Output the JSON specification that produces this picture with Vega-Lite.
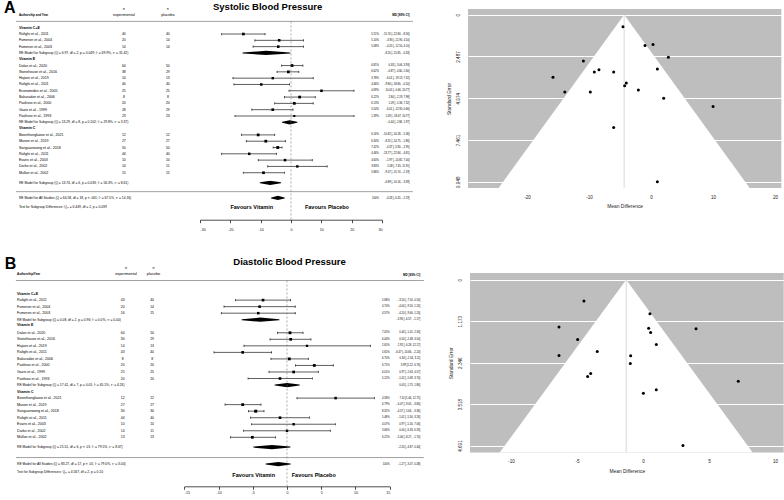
{
  "$schema": "https://vega.github.io/schema/vega-lite/v6.json",
  "background": "white",
  "padding": {"left": 2, "top": 0, "right": 0, "bottom": 0},
  "spacing": 24,
  "config": {"view": {"stroke": null}, "font": "Liberation Sans", "text": {"font": "Liberation Sans", "color": "#000000"}},
  "datasets": {
    "sbp": [
      {"type": "header", "row": 1, "label": "Vitamin C+E"},
      {"type": "study", "row": 2, "label": "Rafighi et al., 2011", "ne": 40, "np": 40, "w": 5.51, "md": -15.7, "lo": -22.84, "hi": -8.56},
      {"type": "study", "row": 3, "label": "Fumeron et al., 2004", "ne": 20, "np": 14, "w": 5.1, "md": -3.9, "lo": -11.9, "hi": 4.1},
      {"type": "study", "row": 4, "label": "Fumeron et al., 2003", "ne": 14, "np": 14, "w": 5.08, "md": -4.2, "lo": -12.5, "hi": 4.1},
      {"type": "model", "row": 5, "label": "RE Model for Subgroup (Q = 6.97, df = 2, p = 0.049; I² = 69.9%, τ² = 31.42)", "md": -8.2, "lo": -15.85, "hi": -0.33},
      {"type": "header", "row": 6, "label": "Vitamin E"},
      {"type": "study", "row": 7, "label": "Dalan et al., 2020", "ne": 64, "np": 50, "w": 6.81, "md": 0.33, "lo": -3.06, "hi": 3.93},
      {"type": "study", "row": 8, "label": "Stonehouse et al., 2016", "ne": 38, "np": 29, "w": 6.62, "md": -0.87, "lo": -4.6, "hi": 2.6},
      {"type": "study", "row": 9, "label": "Hajiani et al., 2019", "ne": 14, "np": 13, "w": 3.78, "md": -6.01, "lo": -19.13, "hi": 7.32},
      {"type": "study", "row": 10, "label": "Rafighi et al., 2011", "ne": 40, "np": 40, "w": 4.46, "md": -9.8, "lo": -18.8, "hi": -0.5},
      {"type": "study", "row": 11, "label": "Economides et al., 2005", "ne": 25, "np": 25, "w": 4.69, "md": 10.05, "lo": -0.66, "hi": 20.77},
      {"type": "study", "row": 12, "label": "Bakuradze et al., 2006", "ne": 8, "np": 8, "w": 6.22, "md": 2.84, "lo": -2.19, "hi": 7.98},
      {"type": "study", "row": 13, "label": "Paolisso et al., 2000", "ne": 20, "np": 20, "w": 6.13, "md": 1.09, "lo": -5.36, "hi": 7.32},
      {"type": "study", "row": 14, "label": "Gazis et al., 1999", "ne": 28, "np": 29, "w": 5.54, "md": -6.01, "lo": -12.9, "hi": 0.66},
      {"type": "study", "row": 15, "label": "Paolisso et al., 1993", "ne": 23, "np": 23, "w": 1.39, "md": 1.09, "lo": -18.47, "hi": 20.77},
      {"type": "model", "row": 16, "label": "RE Model for Subgroup (Q = 13.29, df = 8, p = 0.102; I² = 29.8%, τ² = 3.37)", "md": -0.44, "lo": -2.84, "hi": 1.97},
      {"type": "header", "row": 16.9, "label": "Vitamin C"},
      {"type": "study", "row": 18, "label": "Boonthongkaew et al., 2021", "ne": 12, "np": 12, "w": 6.16, "md": -10.82, "lo": -16.28, "hi": -5.36},
      {"type": "study", "row": 19, "label": "Mason et al., 2019", "ne": 27, "np": 27, "w": 6.34, "md": -8.31, "lo": -14.75, "hi": -1.86},
      {"type": "study", "row": 20, "label": "Sanguanwong et al., 2018", "ne": 50, "np": 50, "w": 7.42, "md": -4.37, "lo": -5.9, "hi": -2.95},
      {"type": "study", "row": 21, "label": "Rafighi et al., 2011", "ne": 44, "np": 40, "w": 4.46, "md": -13.77, "lo": -22.84, "hi": -4.81},
      {"type": "study", "row": 22, "label": "Evans et al., 2003", "ne": 10, "np": 10, "w": 4.6, "md": -1.97, "lo": -10.82, "hi": 7.0},
      {"type": "study", "row": 23, "label": "Darko et al., 2002", "ne": 14, "np": 11, "w": 3.83, "md": 2.08, "lo": -7.65, "hi": 11.91},
      {"type": "study", "row": 24, "label": "Mullan et al., 2002", "ne": 15, "np": 15, "w": 5.86, "md": -9.07, "lo": -15.74, "hi": -2.19},
      {"type": "model", "row": 25.6, "label": "RE Model for Subgroup (Q = 13.74, df = 6, p = 0.033; I² = 56.3%, τ² = 8.61)", "md": -6.89, "lo": -10.16, "hi": -3.39},
      {"type": "overall", "row": 28, "label": "RE Model for All Studies (Q = 64.58, df = 18, p < .001; I² = 67.5%, τ² = 14.16)", "md": -4.33, "lo": -6.45, "hi": -2.19},
      {"type": "note", "row": 29.4, "label": "Test for Subgroup Differences: Qₘ = 6.449, df = 2, p = 0.039"}
    ],
    "dbp": [
      {"type": "header", "row": 2, "label": "Vitamin C+E"},
      {"type": "study", "row": 3, "label": "Rafighi et al., 2011", "ne": 43, "np": 40, "w": 5.68, "md": -3.5, "lo": -7.5, "hi": 0.5},
      {"type": "study", "row": 4, "label": "Fumeron et al., 2004", "ne": 20, "np": 14, "w": 4.7, "md": -4.0, "lo": -9.2, "hi": 1.2},
      {"type": "study", "row": 5, "label": "Fumeron et al., 2003", "ne": 16, "np": 15, "w": 4.57, "md": -4.2, "lo": -9.6, "hi": 1.2},
      {"type": "model", "row": 6, "label": "RE Model for Subgroup (Q = 0.08, df = 2, p = 0.96; I² = 0.0%, τ² = 0.00)", "md": -3.9, "lo": -6.57, "hi": -1.17},
      {"type": "header", "row": 6.8, "label": "Vitamin E"},
      {"type": "study", "row": 8, "label": "Dalan et al., 2020", "ne": 64, "np": 50, "w": 7.05, "md": 0.44, "lo": -1.41, "hi": 2.34},
      {"type": "study", "row": 9, "label": "Stonehouse et al., 2016", "ne": 30, "np": 29, "w": 6.04, "md": 0.54, "lo": -2.48, "hi": 3.5},
      {"type": "study", "row": 10, "label": "Hajiani et al., 2019", "ne": 14, "np": 13, "w": 2.65, "md": 2.92, "lo": -6.28, "hi": 12.17},
      {"type": "study", "row": 11, "label": "Rafighi et al., 2011", "ne": 43, "np": 40, "w": 5.65, "md": -6.47, "lo": -10.66, "hi": -2.24},
      {"type": "study", "row": 12, "label": "Bakuradze et al., 2006", "ne": 8, "np": 8, "w": 6.7, "md": 0.34, "lo": -2.34, "hi": 3.11},
      {"type": "study", "row": 13, "label": "Paolisso et al., 2000", "ne": 20, "np": 20, "w": 6.71, "md": 3.99, "lo": 1.22, "hi": 6.76},
      {"type": "study", "row": 14, "label": "Gazis et al., 1999", "ne": 25, "np": 25, "w": 6.01, "md": 0.97, "lo": -2.63, "hi": 4.57},
      {"type": "study", "row": 15, "label": "Paolisso et al., 1993", "ne": 20, "np": 20, "w": 5.12, "md": -1.02, "lo": -5.69, "hi": 3.7},
      {"type": "model", "row": 16, "label": "RE Model for Subgroup (Q = 17.41, df = 7, p = 0.01; I² = 65.1%, τ² = 4.26)", "md": 0.03, "lo": -1.75, "hi": 1.8},
      {"type": "header", "row": 17.1, "label": "Vitamin C"},
      {"type": "study", "row": 18, "label": "Boonthongkaew et al., 2021", "ne": 12, "np": 12, "w": 4.58, "md": 7.1, "lo": 1.46, "hi": 12.75},
      {"type": "study", "row": 19, "label": "Mason et al., 2019", "ne": 27, "np": 27, "w": 6.79, "md": -6.47, "lo": -9.05, "hi": -3.8},
      {"type": "study", "row": 20, "label": "Sanguanwong et al., 2018", "ne": 30, "np": 30, "w": 8.32, "md": -4.57, "lo": -5.64, "hi": -3.36},
      {"type": "study", "row": 21, "label": "Rafighi et al., 2011", "ne": 44, "np": 40, "w": 5.48, "md": -1.02, "lo": -5.3, "hi": 3.26},
      {"type": "study", "row": 22, "label": "Evans et al., 2003", "ne": 10, "np": 10, "w": 4.07, "md": 0.97, "lo": -5.16, "hi": 7.06},
      {"type": "study", "row": 23, "label": "Darko et al., 2002", "ne": 14, "np": 11, "w": 3.66, "md": 0.0, "lo": -6.33, "hi": 6.33},
      {"type": "study", "row": 24, "label": "Mullan et al., 2002", "ne": 13, "np": 13, "w": 6.22, "md": -5.06, "lo": -8.27, "hi": -1.7},
      {"type": "model", "row": 25.5, "label": "RE Model for Subgroup (Q = 25.51, df = 6, p < .01; I² = 79.5%, τ² = 8.67)", "md": -2.2, "lo": -4.87, "hi": 0.44},
      {"type": "overall", "row": 28.1, "label": "RE Model for All Studies (Q = 83.27, df = 17, p < .01; I² = 79.0%, τ² = 3.04)", "md": -1.27, "lo": -3.07, "hi": 0.48},
      {"type": "note", "row": 29.3, "label": "Test for Subgroup Differences: Qₘ = 4.567, df = 2, p = 0.10"}
    ],
    "sbpFunnel": [
      {"md": -4.52, "se": 0.71}, {"md": -0.97, "se": 1.83}, {"md": 0.32, "se": 1.77}, {"md": -10.9, "se": 2.76},
      {"md": 2.8, "se": 2.54}, {"md": -8.39, "se": 3.28}, {"md": -9.14, "se": 3.41}, {"md": -6.02, "se": 3.41},
      {"md": 1.02, "se": 3.24}, {"md": -15.8, "se": 3.73}, {"md": -3.98, "se": 4.07}, {"md": -4.25, "se": 4.23},
      {"md": -2.04, "se": 4.49}, {"md": -13.9, "se": 4.61}, {"md": -9.78, "se": 4.61}, {"md": 2.04, "se": 4.98},
      {"md": 10.0, "se": 5.46}, {"md": -6.02, "se": 6.71}, {"md": 1.02, "se": 9.95}
    ],
    "dbpFunnel": [
      {"md": -4.47, "se": 0.6}, {"md": 0.53, "se": 0.96}, {"md": -6.36, "se": 1.34}, {"md": 0.43, "se": 1.37},
      {"md": 0.58, "se": 1.49}, {"md": 4.02, "se": 1.39}, {"md": -4.95, "se": 1.69}, {"md": 1.01, "se": 1.83},
      {"md": -3.46, "se": 2.03}, {"md": -6.36, "se": 2.14}, {"md": -0.93, "se": 2.15}, {"md": -0.96, "se": 2.37},
      {"md": -3.96, "se": 2.65}, {"md": -4.19, "se": 2.74}, {"md": 7.22, "se": 2.87}, {"md": 1.01, "se": 3.11},
      {"md": 0.03, "se": 3.21}, {"md": 3.03, "se": 4.69}
    ],
    "sbpRegion": [
      {"se": 0, "left": -4.33, "right": -4.33},
      {"se": 10.32, "left": -24.56, "right": 15.9}
    ],
    "dbpRegion": [
      {"se": 0, "left": -1.27, "right": -1.27},
      {"se": 4.89, "left": -10.85, "right": 8.31}
    ]
  },
  "vconcat": [
    {
      "spacing": 14,
      "hconcat": [
        {
          "width": 430,
          "height": 210.7,
          "data": {"name": "sbp"},
          "resolve": {"scale": {"size": "independent"}},
          "layer": [
            {
              "transform": [{"filter": "datum.type === 'study'"}],
              "mark": {"type": "rule", "color": "#1a1a1a", "strokeWidth": 0.7},
              "encoding": {
                "x": {"field": "lo", "type": "quantitative",
                  "scale": {"domain": [-30, 30], "range": [198, 380], "nice": false, "zero": false},
                  "axis": {"values": [-30, -20, -10, 0, 10, 20, 30], "title": null, "grid": false, "domainColor": "#000000", "domainWidth": 0.7, "tickColor": "#000000", "tickWidth": 0.7, "tickSize": 3, "labelFontSize": 3.6, "labelColor": "#111111", "labelPadding": 4.5, "labelExpr": "replace(datum.label, '−', '-')"}},
                "x2": {"field": "hi"},
                "y": {"field": "row", "type": "quantitative", "scale": {"domain": [-1.97, 31.45], "reverse": true, "nice": false, "zero": false}, "axis": null}
              }
            },
            {
              "transform": [{"filter": "datum.type === 'study'"}, {"fold": ["lo", "hi"], "as": ["end", "bound"]}],
              "mark": {"type": "tick", "orient": "vertical", "size": 2.2, "thickness": 0.7, "color": "#1a1a1a", "opacity": 1},
              "encoding": {"x": {"field": "bound", "type": "quantitative"}, "y": {"field": "row", "type": "quantitative"}}
            },
            {
              "transform": [{"filter": "datum.type === 'study'"}],
              "mark": {"type": "square", "filled": true, "color": "#000000", "opacity": 1},
              "encoding": {
                "x": {"field": "md", "type": "quantitative"},
                "y": {"field": "row", "type": "quantitative"},
                "size": {"field": "w", "type": "quantitative", "scale": {"domain": [1, 8.5], "range": [4, 9]}, "legend": null}
              }
            },
            {
              "transform": [{"filter": "datum.type === 'model' || datum.type === 'overall'"}, {"fold": ["lo", "md", "hi"], "as": ["vertex", "value"]}],
              "mark": {"type": "trail", "color": "#000000"},
              "encoding": {
                "x": {"field": "value", "type": "quantitative"},
                "y": {"field": "row", "type": "quantitative"},
                "size": {"field": "vertex", "type": "ordinal", "scale": {"type": "ordinal", "domain": ["lo", "md", "hi"], "range": [0, 4.2, 0]}, "legend": null},
                "detail": {"field": "label"},
                "order": {"field": "value", "type": "quantitative"}
              }
            },
            {
              "transform": [{"filter": "datum.type === 'study'"}],
              "mark": {"type": "text", "align": "left", "baseline": "middle", "fontSize": 3.6},
              "encoding": {"x": {"datum": -89.7}, "y": {"field": "row", "type": "quantitative"}, "text": {"field": "label"}}
            },
            {
              "transform": [{"filter": "datum.type === 'header'"}],
              "mark": {"type": "text", "align": "left", "baseline": "middle", "fontSize": 3.6, "fontWeight": "bold"},
              "encoding": {"x": {"datum": -89.7}, "y": {"field": "row", "type": "quantitative"}, "text": {"field": "label"}}
            },
            {
              "transform": [{"filter": "datum.type === 'model' || datum.type === 'overall' || datum.type === 'note'"}],
              "mark": {"type": "text", "align": "left", "baseline": "middle", "fontSize": 3.3},
              "encoding": {"x": {"datum": -89.7}, "y": {"field": "row", "type": "quantitative"}, "text": {"field": "label"}}
            },
            {
              "transform": [{"filter": "datum.type === 'study'"}],
              "mark": {"type": "text", "align": "center", "baseline": "middle", "fontSize": 3.4},
              "encoding": {"x": {"datum": -55.1}, "y": {"field": "row", "type": "quantitative"}, "text": {"field": "ne"}}
            },
            {
              "transform": [{"filter": "datum.type === 'study'"}],
              "mark": {"type": "text", "align": "center", "baseline": "middle", "fontSize": 3.4},
              "encoding": {"x": {"datum": -40.6}, "y": {"field": "row", "type": "quantitative"}, "text": {"field": "np"}}
            },
            {
              "transform": [{"filter": "datum.type === 'study' || datum.type === 'overall'"}, {"calculate": "datum.type === 'overall' ? '100%' : format(datum.w, '.2f') + '%'", "as": "wl"}],
              "mark": {"type": "text", "align": "right", "baseline": "middle", "fontSize": 2.7},
              "encoding": {"x": {"datum": 29.0}, "y": {"field": "row", "type": "quantitative"}, "text": {"field": "wl"}}
            },
            {
              "transform": [{"filter": "datum.type === 'study' || datum.type === 'model' || datum.type === 'overall'"}, {"calculate": "format(datum.md, '.2f') + ' [' + format(datum.lo, '.2f') + ', ' + format(datum.hi, '.2f') + ']'", "as": "ml"}],
              "mark": {"type": "text", "align": "right", "baseline": "middle", "fontSize": 2.7},
              "encoding": {"x": {"datum": 39.1}, "y": {"field": "row", "type": "quantitative"}, "text": {"field": "ml"}}
            },
            {
              "data": {"values": [{}]},
              "mark": {"type": "rule", "color": "#8a8a8a", "strokeWidth": 0.8},
              "encoding": {"x": {"datum": -90.7}, "x2": {"datum": 40.2}, "y": {"datum": 0}}
            },
            {
              "data": {"values": [{}]},
              "mark": {"type": "rule", "color": "#8a8a8a", "strokeWidth": 0.8},
              "encoding": {"x": {"datum": -90.7}, "x2": {"datum": 40.2}, "y": {"datum": 27}}
            },
            {
              "data": {"values": [{}]},
              "mark": {"type": "rule", "color": "#777777", "strokeWidth": 0.6, "strokeDash": [2, 2]},
              "encoding": {"x": {"datum": 0}, "y": {"datum": 0}, "y2": {"datum": 31.45}}
            },
            {
              "data": {"values": [{}]},
              "mark": {"type": "text", "text": "A", "align": "left", "baseline": "middle", "fontSize": 16, "fontWeight": "bold"},
              "encoding": {"x": {"datum": -94.6}, "y": {"datum": -2.1}}
            },
            {
              "data": {"values": [{}]},
              "mark": {"type": "text", "text": "Systolic Blood Pressure", "align": "center", "baseline": "middle", "fontSize": 9.5, "fontWeight": "bold"},
              "encoding": {"x": {"datum": -7.7}, "y": {"datum": -2.33}}
            },
            {
              "data": {"values": [{}]},
              "mark": {"type": "text", "text": "Authorship and Year", "align": "left", "baseline": "middle", "fontSize": 3.0, "fontWeight": "bold"},
              "encoding": {"x": {"datum": -89.7}, "y": {"datum": -1.14}}
            },
            {
              "data": {"values": [{}]},
              "mark": {"type": "text", "text": "n", "align": "center", "baseline": "middle", "fontSize": 3.8},
              "encoding": {"x": {"datum": -55.1}, "y": {"datum": -1.9}}
            },
            {
              "data": {"values": [{}]},
              "mark": {"type": "text", "text": "experimental", "align": "center", "baseline": "middle", "fontSize": 3.8},
              "encoding": {"x": {"datum": -55.1}, "y": {"datum": -1.06}}
            },
            {
              "data": {"values": [{}]},
              "mark": {"type": "text", "text": "n", "align": "center", "baseline": "middle", "fontSize": 3.8},
              "encoding": {"x": {"datum": -40.6}, "y": {"datum": -1.9}}
            },
            {
              "data": {"values": [{}]},
              "mark": {"type": "text", "text": "placebo", "align": "center", "baseline": "middle", "fontSize": 3.8},
              "encoding": {"x": {"datum": -40.6}, "y": {"datum": -1.06}}
            },
            {
              "data": {"values": [{}]},
              "mark": {"type": "text", "text": "MD [95% CI]", "align": "right", "baseline": "middle", "fontSize": 3.0, "fontWeight": "bold"},
              "encoding": {"x": {"datum": 39.1}, "y": {"datum": -1.1}}
            },
            {
              "data": {"values": [{}]},
              "mark": {"type": "text", "text": "Favours Vitamin", "align": "right", "baseline": "middle", "fontSize": 5.5, "fontWeight": "bold"},
              "encoding": {"x": {"datum": -5.9}, "y": {"datum": 29.45}}
            },
            {
              "data": {"values": [{}]},
              "mark": {"type": "text", "text": "Favours Placebo", "align": "left", "baseline": "middle", "fontSize": 5.5, "fontWeight": "bold"},
              "encoding": {"x": {"datum": 4.6}, "y": {"datum": 29.45}}
            }
          ]
        },
        {
          "width": 313.3,
          "height": 179,
          "view": {"fill": "#bebebe", "stroke": null},
          "layer": [
            {
              "data": {"name": "sbpRegion"},
              "mark": {"type": "area", "orient": "horizontal", "color": "#ffffff", "opacity": 1, "fillOpacity": 1},
              "encoding": {
                "y": {"field": "se", "type": "quantitative", "scale": {"domain": [-0.34, 10.32], "reverse": true, "nice": false, "zero": false},
                  "axis": {"values": [0, 2.487, 4.974, 7.461, 9.948], "format": ".3~f", "title": "Standard Error", "grid": true, "gridColor": "#ffffff", "gridWidth": 1, "gridOpacity": 1, "domain": false, "ticks": false, "labelAngle": 270, "labelFontSize": 4.6, "labelPadding": 8, "labelColor": "#222222", "titleFontSize": 4.9, "titleFontWeight": "normal", "titlePadding": 4, "titleColor": "#222222"}},
                "x": {"field": "left", "type": "quantitative", "scale": {"domain": [-29.5, 21], "nice": false, "zero": false},
                  "axis": {"values": [-20, -10, 0, 10, 20], "title": "Mean Difference", "grid": false, "domain": false, "ticks": false, "labelFontSize": 4.6, "labelPadding": 6, "labelColor": "#222222", "titleFontSize": 4.9, "titleFontWeight": "normal", "titlePadding": 5, "titleColor": "#222222", "labelExpr": "replace(datum.label, '−', '-')"}},
                "x2": {"field": "right"}
              }
            },
            {
              "data": {"values": [{}]},
              "mark": {"type": "rule", "color": "#cfcfcf", "strokeWidth": 0.8},
              "encoding": {"x": {"datum": -4.33}, "y": {"datum": 0}, "y2": {"datum": 10.32}}
            },
            {
              "data": {"name": "sbpFunnel"},
              "mark": {"type": "circle", "color": "#000000", "size": 9, "opacity": 1},
              "encoding": {"x": {"field": "md", "type": "quantitative"}, "y": {"field": "se", "type": "quantitative"}}
            }
          ]
        }
      ]
    },
    {
      "spacing": 14,
      "hconcat": [
        {
          "width": 432,
          "height": 213.3,
          "data": {"name": "dbp"},
          "resolve": {"scale": {"size": "independent"}},
          "layer": [
            {
              "transform": [{"filter": "datum.type === 'study'"}],
              "mark": {"type": "rule", "color": "#1a1a1a", "strokeWidth": 0.7},
              "encoding": {
                "x": {"field": "lo", "type": "quantitative",
                  "scale": {"domain": [-15, 15], "range": [182.3, 387.7], "nice": false, "zero": false},
                  "axis": {"values": [-15, -10, -5, 0, 5, 10, 15], "title": null, "grid": false, "domainColor": "#000000", "domainWidth": 0.7, "tickColor": "#000000", "tickWidth": 0.7, "tickSize": 3, "labelFontSize": 3.6, "labelColor": "#111111", "labelPadding": 1.5, "labelExpr": "replace(datum.label, '−', '-')"}},
                "x2": {"field": "hi"},
                "y": {"field": "row", "type": "quantitative", "scale": {"domain": [-1.15, 31.5], "reverse": true, "nice": false, "zero": false}, "axis": null}
              }
            },
            {
              "transform": [{"filter": "datum.type === 'study'"}, {"fold": ["lo", "hi"], "as": ["end", "bound"]}],
              "mark": {"type": "tick", "orient": "vertical", "size": 2.2, "thickness": 0.7, "color": "#1a1a1a", "opacity": 1},
              "encoding": {"x": {"field": "bound", "type": "quantitative"}, "y": {"field": "row", "type": "quantitative"}}
            },
            {
              "transform": [{"filter": "datum.type === 'study'"}],
              "mark": {"type": "square", "filled": true, "color": "#000000", "opacity": 1},
              "encoding": {
                "x": {"field": "md", "type": "quantitative"},
                "y": {"field": "row", "type": "quantitative"},
                "size": {"field": "w", "type": "quantitative", "scale": {"domain": [1, 8.5], "range": [4, 9]}, "legend": null}
              }
            },
            {
              "transform": [{"filter": "datum.type === 'model' || datum.type === 'overall'"}, {"fold": ["lo", "md", "hi"], "as": ["vertex", "value"]}],
              "mark": {"type": "trail", "color": "#000000"},
              "encoding": {
                "x": {"field": "value", "type": "quantitative"},
                "y": {"field": "row", "type": "quantitative"},
                "size": {"field": "vertex", "type": "ordinal", "scale": {"type": "ordinal", "domain": ["lo", "md", "hi"], "range": [0, 4.2, 0]}, "legend": null},
                "detail": {"field": "label"},
                "order": {"field": "value", "type": "quantitative"}
              }
            },
            {
              "transform": [{"filter": "datum.type === 'study'"}],
              "mark": {"type": "text", "align": "left", "baseline": "middle", "fontSize": 3.6},
              "encoding": {"x": {"datum": -39.43}, "y": {"field": "row", "type": "quantitative"}, "text": {"field": "label"}}
            },
            {
              "transform": [{"filter": "datum.type === 'header'"}],
              "mark": {"type": "text", "align": "left", "baseline": "middle", "fontSize": 3.6, "fontWeight": "bold"},
              "encoding": {"x": {"datum": -39.43}, "y": {"field": "row", "type": "quantitative"}, "text": {"field": "label"}}
            },
            {
              "transform": [{"filter": "datum.type === 'model' || datum.type === 'overall' || datum.type === 'note'"}],
              "mark": {"type": "text", "align": "left", "baseline": "middle", "fontSize": 3.3},
              "encoding": {"x": {"datum": -39.43}, "y": {"field": "row", "type": "quantitative"}, "text": {"field": "label"}}
            },
            {
              "transform": [{"filter": "datum.type === 'study'"}],
              "mark": {"type": "text", "align": "center", "baseline": "middle", "fontSize": 3.4},
              "encoding": {"x": {"datum": -24.0}, "y": {"field": "row", "type": "quantitative"}, "text": {"field": "ne"}}
            },
            {
              "transform": [{"filter": "datum.type === 'study'"}],
              "mark": {"type": "text", "align": "center", "baseline": "middle", "fontSize": 3.4},
              "encoding": {"x": {"datum": -19.7}, "y": {"field": "row", "type": "quantitative"}, "text": {"field": "np"}}
            },
            {
              "transform": [{"filter": "datum.type === 'study' || datum.type === 'overall'"}, {"calculate": "datum.type === 'overall' ? '100%' : format(datum.w, '.2f') + '%'", "as": "wl"}],
              "mark": {"type": "text", "align": "right", "baseline": "middle", "fontSize": 2.7},
              "encoding": {"x": {"datum": 15.0}, "y": {"field": "row", "type": "quantitative"}, "text": {"field": "wl"}}
            },
            {
              "transform": [{"filter": "datum.type === 'study' || datum.type === 'model' || datum.type === 'overall'"}, {"calculate": "format(datum.md, '.2f') + ' [' + format(datum.lo, '.2f') + ', ' + format(datum.hi, '.2f') + ']'", "as": "ml"}],
              "mark": {"type": "text", "align": "right", "baseline": "middle", "fontSize": 2.7},
              "encoding": {"x": {"datum": 19.47}, "y": {"field": "row", "type": "quantitative"}, "text": {"field": "ml"}}
            },
            {
              "data": {"values": [{}]},
              "mark": {"type": "rule", "color": "#8a8a8a", "strokeWidth": 0.8},
              "encoding": {"x": {"datum": -39.6}, "x2": {"datum": 20.0}, "y": {"datum": 0}}
            },
            {
              "data": {"values": [{}]},
              "mark": {"type": "rule", "color": "#8a8a8a", "strokeWidth": 0.8},
              "encoding": {"x": {"datum": -39.6}, "x2": {"datum": 20.0}, "y": {"datum": 27.1}}
            },
            {
              "data": {"values": [{}]},
              "mark": {"type": "rule", "color": "#777777", "strokeWidth": 0.6, "strokeDash": [2, 2]},
              "encoding": {"x": {"datum": 0}, "y": {"datum": 0}, "y2": {"datum": 31.5}}
            },
            {
              "data": {"values": [{}]},
              "mark": {"type": "text", "text": "B", "align": "left", "baseline": "middle", "fontSize": 16, "fontWeight": "bold"},
              "encoding": {"x": {"datum": -41.23}, "y": {"datum": -2.6}}
            },
            {
              "data": {"values": [{}]},
              "mark": {"type": "text", "text": "Diastolic Blood Pressure", "align": "center", "baseline": "middle", "fontSize": 9.5, "fontWeight": "bold"},
              "encoding": {"x": {"datum": 0.37}, "y": {"datum": -2.8}}
            },
            {
              "data": {"values": [{}]},
              "mark": {"type": "text", "text": "Authorship/Year", "align": "left", "baseline": "middle", "fontSize": 3.0, "fontWeight": "bold"},
              "encoding": {"x": {"datum": -39.43}, "y": {"datum": -1.06}}
            },
            {
              "data": {"values": [{}]},
              "mark": {"type": "text", "text": "n", "align": "center", "baseline": "middle", "fontSize": 3.8},
              "encoding": {"x": {"datum": -23.5}, "y": {"datum": -1.87}}
            },
            {
              "data": {"values": [{}]},
              "mark": {"type": "text", "text": "experimental", "align": "center", "baseline": "middle", "fontSize": 3.8},
              "encoding": {"x": {"datum": -23.5}, "y": {"datum": -0.95}}
            },
            {
              "data": {"values": [{}]},
              "mark": {"type": "text", "text": "n", "align": "center", "baseline": "middle", "fontSize": 3.8},
              "encoding": {"x": {"datum": -19.5}, "y": {"datum": -1.87}}
            },
            {
              "data": {"values": [{}]},
              "mark": {"type": "text", "text": "placebo", "align": "center", "baseline": "middle", "fontSize": 3.8},
              "encoding": {"x": {"datum": -19.5}, "y": {"datum": -0.95}}
            },
            {
              "data": {"values": [{}]},
              "mark": {"type": "text", "text": "MD [95% CI]", "align": "right", "baseline": "middle", "fontSize": 3.0, "fontWeight": "bold"},
              "encoding": {"x": {"datum": 19.47}, "y": {"datum": -0.95}}
            },
            {
              "data": {"values": [{}]},
              "mark": {"type": "text", "text": "Favours Vitamin", "align": "right", "baseline": "middle", "fontSize": 5.5, "fontWeight": "bold"},
              "encoding": {"x": {"datum": -1.75}, "y": {"datum": 29.75}}
            },
            {
              "data": {"values": [{}]},
              "mark": {"type": "text", "text": "Favours Placebo", "align": "left", "baseline": "middle", "fontSize": 5.5, "fontWeight": "bold"},
              "encoding": {"x": {"datum": 0.69}, "y": {"datum": 29.75}}
            }
          ]
        },
        {
          "width": 313.7,
          "height": 179.6,
          "view": {"fill": "#bebebe", "stroke": null},
          "layer": [
            {
              "data": {"name": "dbpRegion"},
              "mark": {"type": "area", "orient": "horizontal", "color": "#ffffff", "opacity": 1, "fillOpacity": 1},
              "encoding": {
                "y": {"field": "se", "type": "quantitative", "scale": {"domain": [-0.19, 4.89], "reverse": true, "nice": false, "zero": false},
                  "axis": {"values": [0, 1.173, 2.346, 3.518, 4.691], "format": ".3~f", "title": "Standard Error", "grid": true, "gridColor": "#ffffff", "gridWidth": 1, "gridOpacity": 1, "domain": false, "ticks": false, "labelAngle": 270, "labelFontSize": 4.6, "labelPadding": 8, "labelColor": "#222222", "titleFontSize": 4.9, "titleFontWeight": "normal", "titlePadding": 4, "titleColor": "#222222"}},
                "x": {"field": "left", "type": "quantitative", "scale": {"domain": [-13.1, 10.66], "nice": false, "zero": false},
                  "axis": {"values": [-10, -5, 0, 5, 10], "title": "Mean Difference", "grid": false, "domain": false, "ticks": false, "labelFontSize": 4.6, "labelPadding": 6, "labelColor": "#222222", "titleFontSize": 4.9, "titleFontWeight": "normal", "titlePadding": 5, "titleColor": "#222222", "labelExpr": "replace(datum.label, '−', '-')"}},
                "x2": {"field": "right"}
              }
            },
            {
              "data": {"values": [{}]},
              "mark": {"type": "rule", "color": "#cfcfcf", "strokeWidth": 0.8},
              "encoding": {"x": {"datum": -1.27}, "y": {"datum": 0}, "y2": {"datum": 4.89}}
            },
            {
              "data": {"name": "dbpFunnel"},
              "mark": {"type": "circle", "color": "#000000", "size": 9, "opacity": 1},
              "encoding": {"x": {"field": "md", "type": "quantitative"}, "y": {"field": "se", "type": "quantitative"}}
            }
          ]
        }
      ]
    }
  ]
}
